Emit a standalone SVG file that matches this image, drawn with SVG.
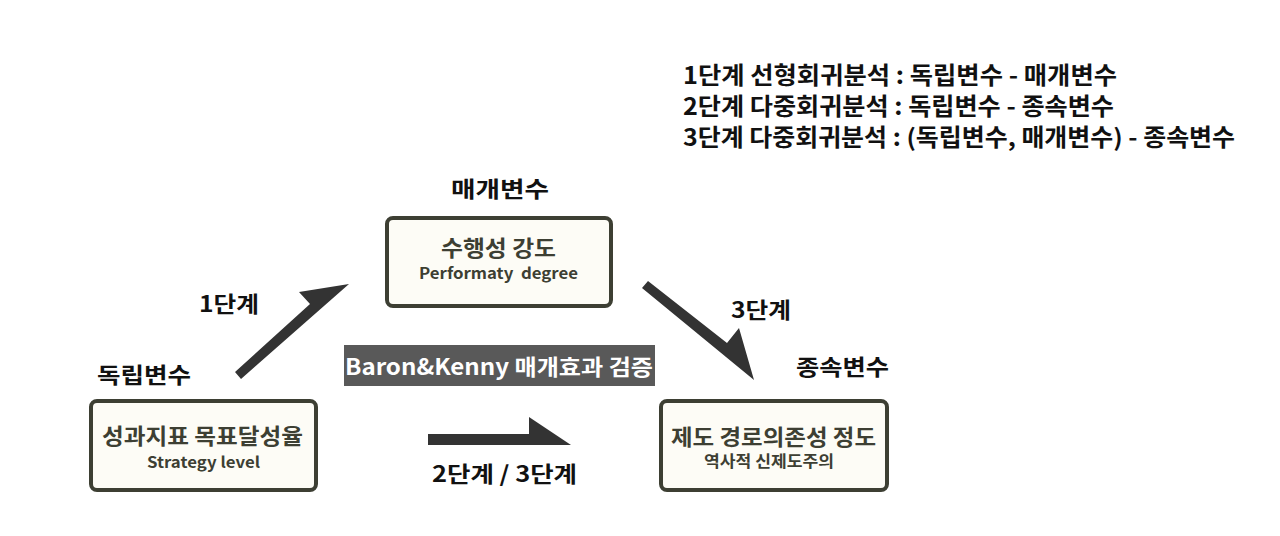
<svg xmlns="http://www.w3.org/2000/svg" width="1280" height="536" viewBox="0 0 1280 536">
<style>
.lbl{font-family:"Noto Sans CJK KR","Noto Sans",sans-serif;font-weight:700;font-size:22px;fill:#111;text-anchor:middle;}
.box{fill:#fdfcf6;stroke:#3d3f33;stroke-width:4;}
.main{font-family:"Noto Sans CJK KR","Noto Sans",sans-serif;font-weight:700;font-size:21.5px;fill:#3d3f33;text-anchor:middle;}
.sub{font-family:"Noto Sans CJK KR","Noto Sans",sans-serif;font-weight:700;font-size:15.5px;fill:#3d3f33;text-anchor:middle;white-space:pre;}
.arr{fill:#333333;}
.leg{font-family:"Noto Sans CJK KR","Noto Sans",sans-serif;font-weight:700;font-size:23.5px;fill:#111;}
</style>
<rect width="1280" height="536" fill="#ffffff"/>
<g id="legend">
<text class="leg" x="683" y="84" textLength="434" lengthAdjust="spacingAndGlyphs">1단계 선형회귀분석 : 독립변수 - 매개변수</text>
<text class="leg" x="683" y="115" textLength="431" lengthAdjust="spacingAndGlyphs">2단계 다중회귀분석 : 독립변수 - 종속변수</text>
<text class="leg" x="683" y="146" textLength="552" lengthAdjust="spacingAndGlyphs">3단계 다중회귀분석 : (독립변수, 매개변수) - 종속변수</text>
</g>
<g id="node-mediator">
<text class="lbl" x="500" y="197" textLength="98" lengthAdjust="spacingAndGlyphs">매개변수</text>
<rect class="box" x="387" y="218" width="224" height="88" rx="6"/>
<text class="main" x="498.5" y="256" textLength="115" lengthAdjust="spacingAndGlyphs">수행성 강도</text>
<text class="sub" x="498.5" y="279" xml:space="preserve" textLength="159" lengthAdjust="spacingAndGlyphs">Performaty  degree</text>
</g>
<g id="node-independent">
<text class="lbl" x="144" y="383" textLength="94" lengthAdjust="spacingAndGlyphs">독립변수</text>
<rect class="box" x="91" y="401" width="225" height="89" rx="6"/>
<text class="main" x="202.5" y="444" textLength="201" lengthAdjust="spacingAndGlyphs">성과지표 목표달성율</text>
<text class="sub" x="203.5" y="468" textLength="113" lengthAdjust="spacingAndGlyphs">Strategy level</text>
</g>
<g id="node-dependent">
<text class="lbl" x="842.5" y="375" textLength="93" lengthAdjust="spacingAndGlyphs">종속변수</text>
<rect class="box" x="661" y="401" width="226" height="89" rx="6"/>
<text class="main" x="773.5" y="445" textLength="205" lengthAdjust="spacingAndGlyphs">제도 경로의존성 정도</text>
<text class="sub" x="769" y="467" textLength="130" lengthAdjust="spacingAndGlyphs">역사적 신제도주의</text>
</g>
<g id="title">
<rect x="344" y="345" width="311" height="41" fill="#595959"/>
<text x="499" y="375" font-family="Noto Sans CJK KR, Noto Sans, sans-serif" font-weight="700" font-size="22" fill="#ffffff" text-anchor="middle" textLength="308" lengthAdjust="spacingAndGlyphs">Baron&amp;Kenny 매개효과 검증</text>
</g>
<g id="connectors">
<polygon class="arr" points="241,379 349,284 299,292 310,304 235,372"/>
<text class="lbl" x="229" y="312" textLength="60" lengthAdjust="spacingAndGlyphs">1단계</text>
<polygon class="arr" points="648,281 727,343 739,328 754,380 642,288"/>
<text class="lbl" x="761" y="318" textLength="60" lengthAdjust="spacingAndGlyphs">3단계</text>
<polygon class="arr" points="428,434 529,434 529,417 571,445 428,445"/>
<text class="lbl" x="504.5" y="482" textLength="145" lengthAdjust="spacingAndGlyphs">2단계 / 3단계</text>
</g>
</svg>
